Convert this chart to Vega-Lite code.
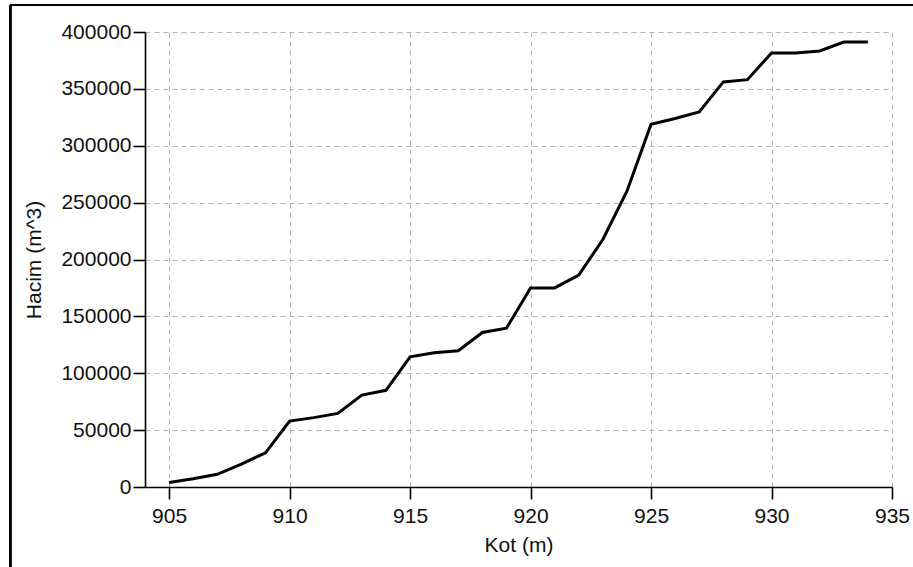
{
  "$schema": "https://vega.github.io/schema/vega-lite/v6.json",
  "width": 747,
  "height": 455,
  "autosize": {"type": "none"},
  "padding": {"left": 145, "top": 32, "right": 21, "bottom": 80},
  "background": "white",
  "config": {
    "view": {"stroke": null},
    "font": "Liberation Sans",
    "axis": {
      "domainColor": "black",
      "domainWidth": 1.6,
      "tickColor": "black",
      "tickWidth": 1.6,
      "tickSize": 12,
      "labelFont": "Liberation Sans",
      "labelFontSize": 21,
      "labelColor": "#111",
      "titleFont": "Liberation Sans",
      "titleFontSize": 21,
      "titleFontWeight": "normal",
      "titleColor": "#111",
      "gridColor": "#b4b4b4",
      "gridWidth": 1,
      "gridDash": [5, 4]
    }
  },
  "data": {
    "values": [
      {"kot": 905, "hacim": 4000},
      {"kot": 906, "hacim": 7300},
      {"kot": 907, "hacim": 11200},
      {"kot": 908, "hacim": 20200},
      {"kot": 909, "hacim": 30000},
      {"kot": 910, "hacim": 58000},
      {"kot": 911, "hacim": 61000},
      {"kot": 912, "hacim": 64700},
      {"kot": 913, "hacim": 80800},
      {"kot": 914, "hacim": 85000},
      {"kot": 915, "hacim": 114500},
      {"kot": 916, "hacim": 118000},
      {"kot": 917, "hacim": 119800},
      {"kot": 918, "hacim": 135800},
      {"kot": 919, "hacim": 139600},
      {"kot": 920, "hacim": 175000},
      {"kot": 921, "hacim": 175000},
      {"kot": 922, "hacim": 186200},
      {"kot": 923, "hacim": 217600},
      {"kot": 924, "hacim": 260000},
      {"kot": 925, "hacim": 318900},
      {"kot": 926, "hacim": 323900},
      {"kot": 927, "hacim": 329700},
      {"kot": 928, "hacim": 356100},
      {"kot": 929, "hacim": 358100},
      {"kot": 930, "hacim": 381600},
      {"kot": 931, "hacim": 381600},
      {"kot": 932, "hacim": 383300},
      {"kot": 933, "hacim": 391200},
      {"kot": 934, "hacim": 391200}
    ]
  },
  "layer": [
    {
      "mark": {"type": "line", "color": "black", "strokeWidth": 3, "strokeJoin": "miter"},
      "encoding": {
        "x": {
          "field": "kot",
          "type": "quantitative",
          "title": "Kot (m)",
          "scale": {"domain": [904, 935], "nice": false, "zero": false},
          "axis": {"values": [905, 910, 915, 920, 925, 930, 935], "labelPadding": 6, "titlePadding": 8, "labelFlush": false}
        },
        "y": {
          "field": "hacim",
          "type": "quantitative",
          "title": "Hacim (m^3)",
          "scale": {"domain": [0, 400000], "nice": false},
          "axis": {"values": [0, 50000, 100000, 150000, 200000, 250000, 300000, 350000, 400000], "format": "d", "labelPadding": 2, "titlePadding": 16, "labelFlush": false}
        }
      }
    },
    {
      "mark": {"type": "rule", "color": "black", "strokeWidth": 2, "clip": false},
      "encoding": {
        "x": {"datum": 898.4, "type": "quantitative"},
        "y": {"datum": -100000, "type": "quantitative"},
        "y2": {"datum": 423700}
      }
    },
    {
      "mark": {"type": "rule", "color": "black", "strokeWidth": 2, "clip": false},
      "encoding": {
        "x": {"datum": 898.4, "type": "quantitative"},
        "x2": {"datum": 938},
        "y": {"datum": 423700, "type": "quantitative"}
      }
    }
  ]
}
